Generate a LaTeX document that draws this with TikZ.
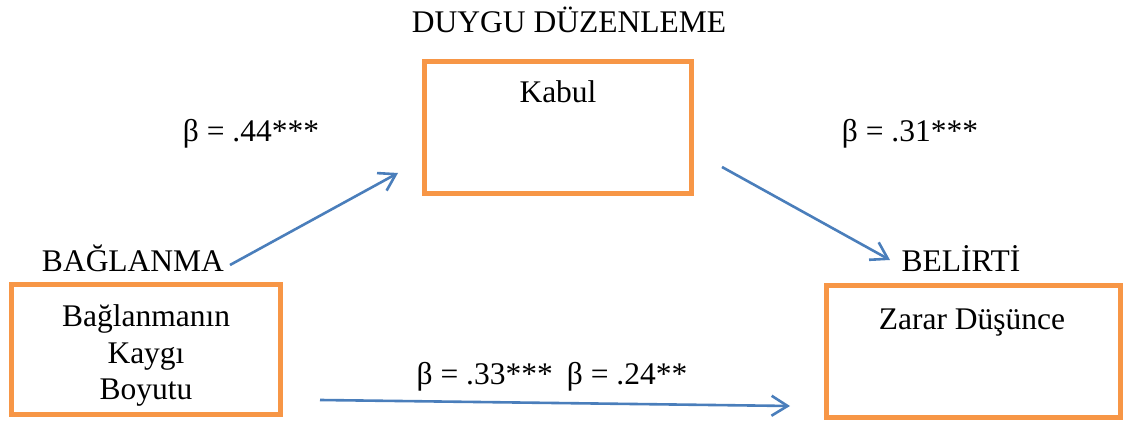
\documentclass[tikz,border=0pt]{standalone}
\usepackage{fontspec}
\setmainfont{Liberation Serif}
\usetikzlibrary{arrows.meta}
\definecolor{boxorange}{HTML}{F79646}
\definecolor{arrowblue}{HTML}{4A7EBB}
\begin{document}
\begin{tikzpicture}[x=0.5pt,y=-0.5pt,
  box/.style={draw=boxorange,line width=2.5pt,inner sep=0pt,fill=none},
  lbl/.style={anchor=base,inner sep=0pt,font=\fontsize{15.75pt}{19pt}\selectfont},
  conn/.style={draw=arrowblue,line width=1.3pt,-{Straight Barb[length=8pt,width=10pt,line width=1.3pt]}}]
\useasboundingbox (0,0) rectangle (1125,421);
% boxes
\node[box,minimum width=134.5pt,minimum height=65pt] (bag) at (145.5,350) {};
\node[box,minimum width=133.5pt,minimum height=66pt] (kab) at (557.5,128) {};
\node[box,minimum width=147pt,minimum height=66pt] (zar) at (973,352) {};
% texts
\node[lbl] (title) at (569,33) {DUYGU DÜZENLEME};
\node[lbl] (kabt) at (558,103) {Kabul};
\node[lbl] (b1) at (251,142) {β = .44***};
\node[lbl] (b2) at (910,142) {β = .31***};
\node[lbl] (bagl) at (133,272) {BAĞLANMA};
\node[lbl] (bel) at (961,272) {BELİRTİ};
\node[lbl] (t1) at (146,327) {Bağlanmanın};
\node[lbl] (t2) at (146,364) {Kaygı};
\node[lbl] (t3) at (146,400) {Boyutu};
\node[lbl] (zt) at (972,330) {Zarar Düşünce};
\node[lbl] (b3) at (552,385) {β = .33***\hspace{0.2em} β = .24**};
% connector ends
\coordinate (a1s) at (230,265);
\coordinate (a1e) at (398,173);
\coordinate (a2s) at (722,167);
\coordinate (a2e) at (890,260);
\coordinate (a3s) at (320,400);
\coordinate (a3e) at (790,406);
\draw[conn] (a1s) -- (a1e);
\draw[conn] (a2s) -- (a2e);
\draw[conn] (a3s) -- (a3e);
\end{tikzpicture}
\end{document}
